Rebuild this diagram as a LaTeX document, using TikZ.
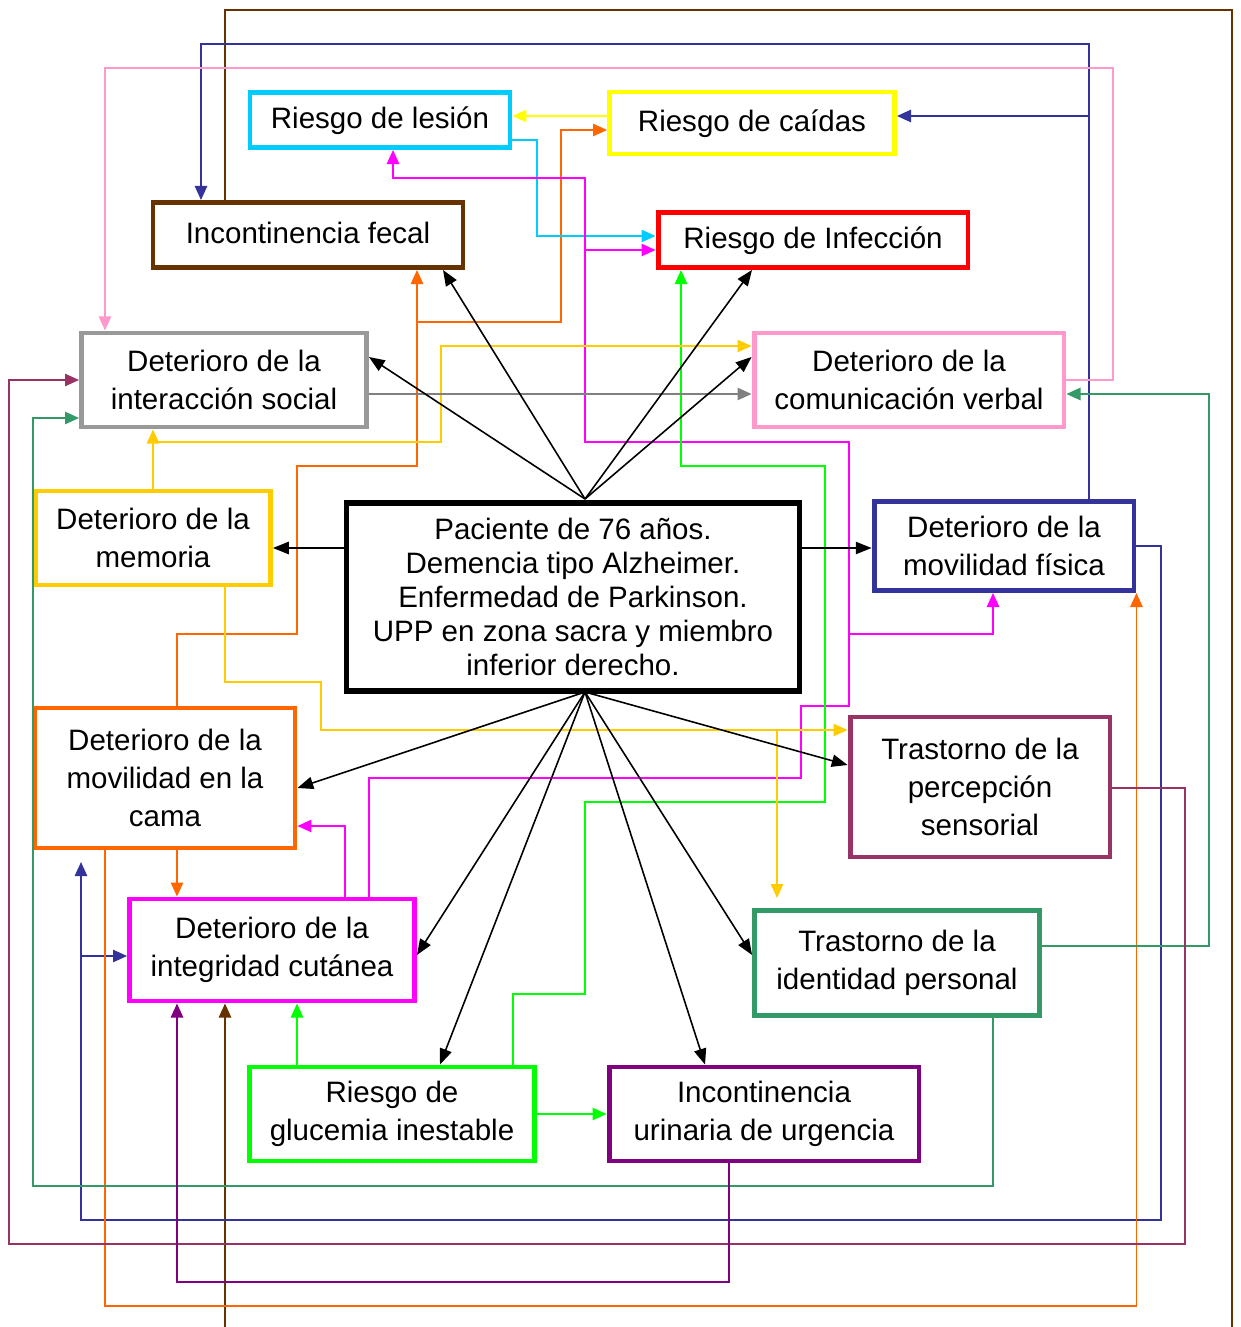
\documentclass[tikz,border=0pt]{standalone}
\usepackage{fontspec}
\setmainfont{Liberation Sans}
\usetikzlibrary{arrows.meta}

\definecolor{cielo}{HTML}{00CCFF}
\definecolor{amarillo}{HTML}{FFFF00}
\definecolor{marron}{HTML}{663300}
\definecolor{rojo}{HTML}{FF0000}
\definecolor{gris}{HTML}{999999}
\definecolor{grislinea}{HTML}{808080}
\definecolor{rosa}{HTML}{FF99CC}
\definecolor{oro}{HTML}{FFCC00}
\definecolor{marino}{HTML}{333399}
\definecolor{naranja}{HTML}{FF6600}
\definecolor{vino}{HTML}{993366}
\definecolor{fucsia}{HTML}{FF00FF}
\definecolor{verdemar}{HTML}{339966}
\definecolor{lima}{HTML}{00FF00}
\definecolor{morado}{HTML}{800080}

\tikzset{
  caja/.style={draw, line width=2.8pt, fill=white, align=center, inner sep=2pt,
    font=\fontsize{16.8}{21.8}\selectfont},
  unalinea/.style={text height=1.2em, text depth=0.21em},
  enlace/.style={line width=1pt, -{Triangle[length=8pt,width=7pt]}},
  flecha/.style={line width=0.9pt, black, -{Triangle[length=9pt,width=7pt]}}
}

\begin{document}
\begin{tikzpicture}[x=0.02cm, y=-0.02cm]
\useasboundingbox (0,0) rectangle (1240,1327);

% diagnosticos
\node (lesion) [caja, unalinea, draw=cielo, minimum width=5.2cm, minimum height=1.1cm] at (380,120) {Riesgo de lesión};
\node (caidas) [caja, unalinea, draw=amarillo, minimum width=5.7cm, minimum height=1.24cm] at (752,123) {Riesgo de caídas};
\node (fecal) [caja, unalinea, draw=marron, minimum width=6.2cm, minimum height=1.3cm] at (308,235) {Incontinencia fecal};
\node (infec) [caja, unalinea, draw=rojo, minimum width=6.2cm, minimum height=1.1cm] at (813,240) {Riesgo de Infección};
\node (social) [caja, draw=gris, minimum width=5.7cm, minimum height=1.88cm] at (224,380) {Deterioro de la\\interacción social};
\node (verbal) [caja, draw=rosa, minimum width=6.2cm, minimum height=1.88cm] at (909,380) {Deterioro de la\\comunicación verbal};
\node (memoria) [caja, draw=oro, minimum width=4.7cm, minimum height=1.88cm] at (153,538) {Deterioro de la\\memoria};
\node (central) [caja, draw=black, line width=3.2pt, minimum width=9.06cm, minimum height=3.76cm,
  font=\fontsize{16.8}{19.3}\selectfont] at (573,597)
  {Paciente de 76 años.\\Demencia tipo Alzheimer.\\Enfermedad de Parkinson.\\UPP en zona sacra y miembro\\inferior derecho.};
\node (fisica) [caja, draw=marino, minimum width=5.2cm, minimum height=1.78cm] at (1004,546) {Deterioro de la\\movilidad física};
\node (cama) [caja, draw=naranja, minimum width=5.2cm, minimum height=2.8cm] at (165,778) {Deterioro de la\\movilidad en la\\cama};
\node (percep) [caja, draw=vino, minimum width=5.2cm, minimum height=2.8cm] at (980,787) {Trastorno de la\\percepción\\sensorial};
\node (integ) [caja, draw=fucsia, minimum width=5.7cm, minimum height=2.04cm] at (272,950) {Deterioro de la\\integridad cutánea};
\node (ident) [caja, draw=verdemar, minimum width=5.7cm, minimum height=2.1cm] at (897,963) {Trastorno de la\\identidad personal};
\node (gluc) [caja, draw=lima, minimum width=5.7cm, minimum height=1.88cm] at (392,1114) {Riesgo de\\glucemia inestable};
\node (urin) [caja, draw=morado, minimum width=6.2cm, minimum height=1.88cm] at (764,1114) {Incontinencia\\urinaria de urgencia};

% puntos de paso
\coordinate (b1) at (225,10);   \coordinate (b2) at (1232,10);  \coordinate (b3) at (1232,1345);
\coordinate (n1) at (1089,44);  \coordinate (n2) at (201,44);   \coordinate (n3) at (1089,116);
\coordinate (n4) at (1161,1220); \coordinate (n5) at (81,1220); \coordinate (n6) at (81,862);
\coordinate (n7) at (81,956);
\coordinate (r1) at (1113,68);  \coordinate (r2) at (105,68);
\coordinate (a1) at (560,116);
\coordinate (o1) at (177,634);  \coordinate (o2) at (297,466);  \coordinate (o3) at (417,322);
\coordinate (o4) at (561,130);  \coordinate (o5) at (105,1306);
\coordinate (c1) at (537,140);  \coordinate (c2) at (537,236);
\coordinate (m1) at (393,178);  \coordinate (m2) at (585,178);  \coordinate (m3) at (585,442);
\coordinate (m4) at (849,442);  \coordinate (m5) at (849,706);  \coordinate (m6) at (801,706);
\coordinate (m7) at (801,778);  \coordinate (m8) at (369,778);  \coordinate (m9) at (585,250);
\coordinate (m10) at (849,634); \coordinate (m11) at (993,634); \coordinate (m12) at (345,826);
\coordinate (g1) at (513,994);  \coordinate (g2) at (585,802);  \coordinate (g3) at (825,466);
\coordinate (g4) at (681,466);  \coordinate (g5) at (297,1030);
\coordinate (y1) at (153,442);  \coordinate (y2) at (441,346);  \coordinate (y3) at (225,682);
\coordinate (y4) at (321,730);  \coordinate (y5) at (777,730);
\coordinate (s1) at (560,394);
\coordinate (t1) at (1209,946); \coordinate (t2) at (1209,394); \coordinate (t3) at (993,1186);
\coordinate (t4) at (33,1186);  \coordinate (t5) at (33,418);
\coordinate (w1) at (1185,788); \coordinate (w2) at (1185,1244); \coordinate (w3) at (9,1244);
\coordinate (w4) at (9,380);
\coordinate (p1) at (729,1282); \coordinate (p2) at (177,1282);

% relaciones de color
\draw [enlace, marron] (fecal.north -| b1) -- (b1) -- (b2) -- (b3) -- (b3 -| b1) -- (integ.south -| b1);
\draw [enlace, marino] (fisica.north -| n1) -- (n1) -- (n2) -- (fecal.north -| n2);
\draw [enlace, marino] (n3) -- (caidas.east |- n3);
\draw [enlace, marino] (fisica.east) -| (n4) -- (n5) -- (n6);
\draw [enlace, marino] (n7) -- (integ.west |- n7);
\draw [enlace, rosa] (verbal.east) -| (r1) -- (r2) -- (social.north -| r2);
\draw [enlace, amarillo] (caidas.west |- a1) -- (lesion.east |- a1);
\draw [enlace, naranja] (cama.north -| o1) -- (o1) -| (o2) -| (o3) -- (fecal.south -| o3);
\draw [enlace, naranja] (o3) -| (o4) -- (caidas.west |- o4);
\draw [enlace, naranja] (cama.south -| o5) -- (o5) -| (fisica.south east);
\draw [enlace, naranja] (cama.south -| o1) -- (integ.north -| o1);
\draw [enlace, cielo] (lesion.east |- c1) -- (c1) -- (c2) -- (infec.west |- c2);
\draw [enlace, fucsia] (integ.north -| m8) -- (m8) -- (m7) -- (m6) -- (m5) -- (m4) -- (m3) -- (m2) -- (m1) -- (lesion.south -| m1);
\draw [enlace, fucsia] (m9) -- (infec.west |- m9);
\draw [enlace, fucsia] (m10) -- (m11) -- (fisica.south -| m11);
\draw [enlace, fucsia] (integ.north -| m12) -- (m12) -- (cama.east |- m12);
\draw [enlace, lima] (gluc.north -| g1) -- (g1) -| (g2) -| (g3) -- (g4) -- (infec.south -| g4);
\draw [enlace, lima] (gluc.north -| g5) -- (integ.south -| g5);
\draw [enlace, lima] (gluc.east) -- (urin.west);
\draw [enlace, oro] (memoria.north) -- (social.south -| memoria.north);
\draw [enlace, oro] (y1) -| (y2) -- (verbal.west |- y2);
\draw [enlace, oro] (memoria.south -| y3) -- (y3) -| (y4) -- (percep.west |- y4);
\draw [enlace, oro] (y5) -- ([yshift=0.2cm]ident.north -| y5);
\draw [enlace, grislinea] (social.east |- s1) -- (verbal.west |- s1);
\draw [enlace, verdemar] (ident.east |- t1) -- (t1) -- (t2) -- (verbal.east |- t2);
\draw [enlace, verdemar] (ident.south -| t3) -- (t3) -- (t4) -- (t5) -- (social.west |- t5);
\draw [enlace, vino] (percep.east |- w1) -- (w1) -- (w2) -- (w3) -- (w4) -- (social.west |- w4);
\draw [enlace, morado] (urin.south -| p1) -- (p1) -- (p2) -- (integ.south -| p2);

% flechas desde el paciente
\coordinate (ctop) at (585,499); \coordinate (cbot) at (585,692);
\coordinate (k1) at (443,0); \coordinate (k2) at (0,357); \coordinate (k3) at (752,0);
\coordinate (k4) at (0,548); \coordinate (k5) at (0,788); \coordinate (k6) at (0,955);
\coordinate (k7) at (440,0); \coordinate (k8) at (705,0); \coordinate (k9) at (0,765);
\draw [flecha] (ctop) -- (fecal.south -| k1);
\draw [flecha] (ctop) -- (social.east |- k2);
\draw [flecha] (ctop) -- (infec.south -| k3);
\draw [flecha] (ctop) -- (verbal.west |- k2);
\draw [flecha] (central.west |- k4) -- (memoria.east |- k4);
\draw [flecha] (central.east |- k4) -- (fisica.west |- k4);
\draw [flecha] (cbot) -- (cama.east |- k5);
\draw [flecha] (cbot) -- (integ.east |- k6);
\draw [flecha] (cbot) -- (gluc.north -| k7);
\draw [flecha] (cbot) -- (urin.north -| k8);
\draw [flecha] (cbot) -- (ident.west |- k6);
\draw [flecha] (cbot) -- (percep.west |- k9);
\end{tikzpicture}
\end{document}
